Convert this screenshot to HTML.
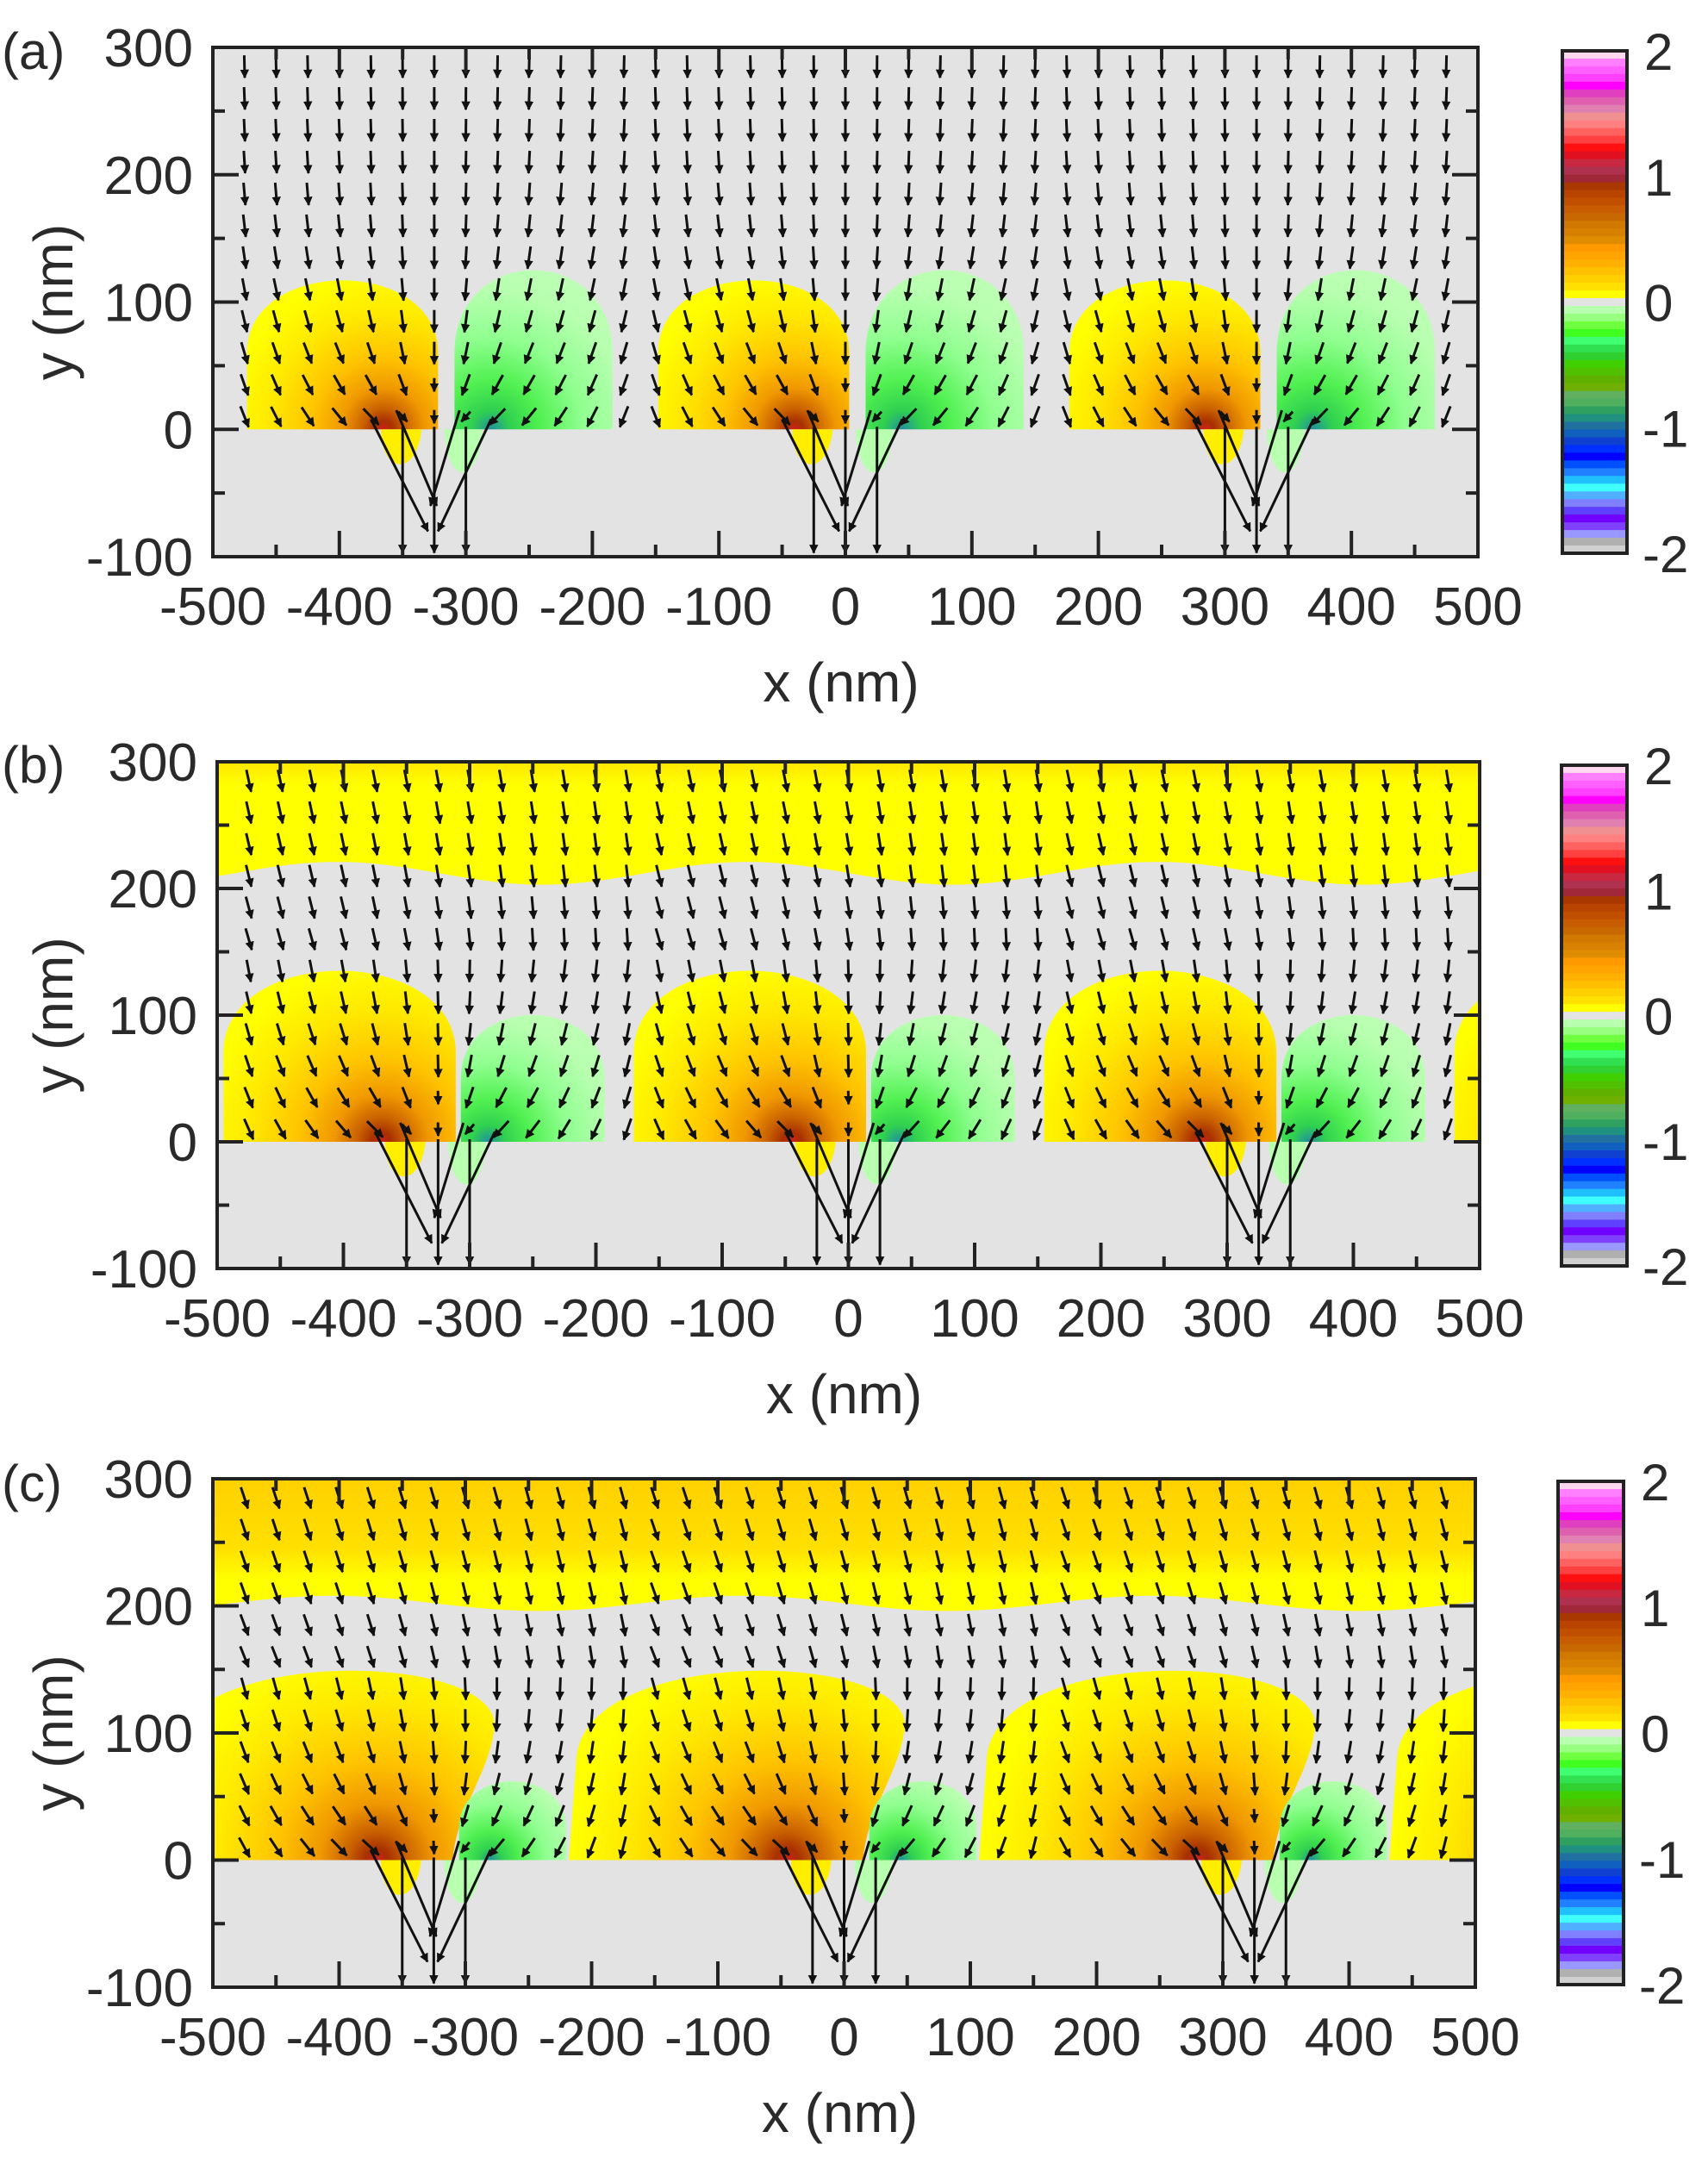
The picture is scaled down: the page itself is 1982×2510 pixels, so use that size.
<!DOCTYPE html>
<html><head><meta charset="utf-8">
<style>
html,body{margin:0;padding:0;background:#fff;}
svg{display:block;}
text{font-family:"Liberation Sans",Arial,sans-serif;fill:#2a2a2a;}
</style></head>
<body>
<svg id="s" xmlns="http://www.w3.org/2000/svg" width="1982" height="2510" viewBox="0 0 1982 2510">
<defs>
<marker id="ah" viewBox="0 0 10 10" refX="9" refY="5" markerWidth="3.5" markerHeight="3.5" orient="auto" markerUnits="strokeWidth">
<path d="M0,0 L10,5 L0,10 z" fill="#111"/>
</marker>
</defs>
<g id="root"></g>
</svg>
<script>
(function(){
var NS="http://www.w3.org/2000/svg";
var root=document.getElementById('root');
var defs=document.querySelector('defs');
function el(tag,attrs,parent,txt){var e=document.createElementNS(NS,tag);for(var k in attrs)e.setAttribute(k,attrs[k]);if(txt!==undefined)e.textContent=txt;(parent||root).appendChild(e);return e;}
var gid=0;
var cbColors=["#ffd8f0","#ff80ff","#ff60ff","#ff40ff","#ff00ff","#e040c0","#e060b0","#e080b0","#f09090","#ff8080","#ff6060","#ff4040","#ff1010","#e01020","#c82840","#b03050","#a02838","#a83800","#b84400","#c05000","#c85c00","#c86800","#d07800","#d88000","#e08c00","#ff9900","#ffa400","#ffb000","#ffc000","#ffd000","#ffe000","#ffff00","#e3e3e3","#b8ffb0","#98ff80","#70ff40","#40ff20","#40ff70","#30e050","#30d030","#40d000","#50c000","#60b000","#70b000","#60b060","#50b060","#30a060","#209080","#2070a0","#1060c0","#1040d0","#0030ff","#0000ff","#0050ff","#2080ff","#20c0ff","#40ffff","#50b0ff","#8080ff","#6040ff","#7000ff","#8040ff","#9898ff","#b0b0b0","#d0d0d0"];

function panel(P){
  var L=P.L,R=P.R,T=P.T,B=P.B,W=R-L,H=B-T;
  function px(x){return L+(x+500)/1000*W;}
  function py(y){return T+(300-y)/400*H;}
  var cid='clip'+(gid++);
  var cp=el('clipPath',{id:cid},defs);
  el('rect',{x:L,y:T,width:W,height:H},cp);
  var g=el('g',{'clip-path':'url(#'+cid+')'});
  el('rect',{x:L,y:T,width:W,height:H,fill:'#e3e3e3'},g);
  if(P.band){
    var lg='lg'+(gid++);
    var gr=el('linearGradient',{id:lg,x1:0,y1:py(300),x2:0,y2:py(P.band.y0),gradientUnits:'userSpaceOnUse'},defs);
    P.band.stops.forEach(function(s){el('stop',{offset:s[0],'stop-color':s[1]},gr);});
    var d='M'+px(-500)+','+py(300)+' L'+px(500)+','+py(300);
    for(var x=500;x>=-500;x-=10){d+=' L'+px(x)+','+py(P.band.f(x));}
    d+=' Z';
    el('path',{d:d,fill:'url(#'+lg+')'},g);
  }
  var centers=[-650,-325,0,325,650];
  centers.forEach(function(c){
    var Y=P.yl, G=P.gl;
    var rg='rg'+(gid++);
    var gr=el('radialGradient',{id:rg,cx:px(c+Y.fc),cy:py(0),r:Y.rad,gradientUnits:'userSpaceOnUse'},defs);
    [[0,'#d02020'],[0.04,'#a83000'],[0.1,'#c86000'],[0.2,'#f09800'],[0.35,'#ffc400'],[0.55,'#ffe800'],[0.75,'#ffff00'],[1,'#ffff00']].forEach(function(s){el('stop',{offset:s[0],'stop-color':s[1]},gr);});
    el('path',{d:Y.path(c,px,py),fill:'url(#'+rg+')'},g);
    el('path',{d:'M'+px(c-42)+','+py(0)+' C'+px(c-42)+','+py(-35)+' '+px(c-14)+','+py(-38)+' '+px(c-10)+','+py(0)+' Z',fill:'#ffee00'},g);
    var rg2='rg'+(gid++);
    var gr2=el('radialGradient',{id:rg2,cx:px(c+G.fc),cy:py(0),r:G.rad,gradientUnits:'userSpaceOnUse'},defs);
    [[0,'#2090a0'],[0.08,'#30d050'],[0.2,'#50f050'],[0.38,'#90ff90'],[0.58,'#b8ffb0'],[1,'#c8ffc0']].forEach(function(s){el('stop',{offset:s[0],'stop-color':s[1]},gr2);});
    el('path',{d:G.path(c,px,py),fill:'url(#'+rg2+')'},g);
    el('path',{d:'M'+px(c+8)+','+py(0)+' C'+px(c+10)+','+py(-45)+' '+px(c+35)+','+py(-45)+' '+px(c+38)+','+py(0)+' Z',fill:'#b8ffb0'},g);
  });
  var ag=el('g',{stroke:'#111','stroke-width':3,fill:'none'},g);
  var Lp=P.alen;
  for(var x=-475;x<=475;x+=25){
    for(var y=285;y>=0;y-=25){
      var yy=y<10?2:y;
      var c=Math.round(x/325)*325;
      var dx=c-x, dy=-yy; var r=Math.sqrt(dx*dx+dy*dy)+1;
      var tilt=P.tilt(x,yy);
      var s=2.2*Math.exp(-r/90);
      var vx=tilt+dx/r*s, vy=-1+dy/r*s;
      if(y<10){vx=dx/r*3; vy=-0.05;}
      var n=Math.sqrt(vx*vx+vy*vy); vx/=n; vy/=n;
      var len=Lp; if(y<10) len=Lp*0.9;
      if(r<40) len=Lp*0.6;
      var cxp=px(x), cyp=py(yy);
      var x1=cxp-vx*len/2, y1=cyp+vy*len/2, x2=cxp+vx*len/2, y2=cyp-vy*len/2;
      el('line',{x1:x1.toFixed(1),y1:y1.toFixed(1),x2:x2.toFixed(1),y2:y2.toFixed(1),'marker-end':'url(#ah)'},ag);
    }
  }
  [-325,0,325].forEach(function(c){
    var segs=[[c-25,2,c-25,-97],[c,2,c,-97],[c+25,2,c+25,-97],[c-50,8,c-5,-80],[c+45,8,c+3,-80],[c-30,15,c+2,-60],[c+20,15,c-3,-60]];
    segs.forEach(function(s){el('line',{x1:px(s[0]),y1:py(s[1]),x2:px(s[2]),y2:py(s[3]),'marker-end':'url(#ah)'},ag);});
  });
  var fg=el('g',{stroke:'#222','stroke-width':4,fill:'none'});
  el('rect',{x:L,y:T,width:W,height:H},fg);
  for(var x=-500;x<=500;x+=50){
    var tl=(x%100===0)?30:14;
    el('line',{x1:px(x),y1:B,x2:px(x),y2:B-tl},fg);
    el('line',{x1:px(x),y1:T,x2:px(x),y2:T+tl},fg);
  }
  for(var y=-100;y<=300;y+=50){
    var tl=(y%100===0)?30:14;
    el('line',{x1:L,y1:py(y),x2:L+tl,y2:py(y)},fg);
    el('line',{x1:R,y1:py(y),x2:R-tl,y2:py(y)},fg);
  }
  for(var x=-500;x<=500;x+=100){
    el('text',{x:px(x),y:B+79,'font-size':62,'text-anchor':'middle'},root,String(x));
  }
  for(var y=-100;y<=300;y+=100){
    el('text',{x:L-23,y:py(y)+22,'font-size':62,'text-anchor':'end'},root,String(y));
  }
  el('text',{x:(L+R)/2-5,y:B+168,'font-size':64,'text-anchor':'middle'},root,'x (nm)');
  el('text',{x:0,y:0,'font-size':64,'text-anchor':'middle',transform:'translate(84,'+((T+B)/2)+') rotate(-90)'},root,'y (nm)');
  el('text',{x:2,y:P.labY,'font-size':60},root,P.lab);
  var C=P.cb, n=cbColors.length, h=(C.B-C.T)/n;
  cbColors.forEach(function(col,i){el('rect',{x:C.L,y:C.T+i*h,width:C.R-C.L,height:h+0.6,fill:col});});
  el('rect',{x:C.L,y:C.T,width:C.R-C.L,height:C.B-C.T,fill:'none',stroke:'#222','stroke-width':4});
  ['2','1','0','-1','-2'].forEach(function(t,i){
    el('text',{x:C.R+(t.length>1?18:20),y:C.T+i*(C.B-C.T)/4+22,'font-size':60},root,t);
  });
}

function lobe(x1,x2,top,ym){
  return function(c,px,py){
    var a=c+x1,b=c+x2, ctrl=ym+(top-ym)*4/3;
    return 'M'+px(a)+','+py(0)+' L'+px(a)+','+py(ym)+' C'+px(a)+','+py(ctrl)+' '+px(b)+','+py(ctrl)+' '+px(b)+','+py(ym)+' L'+px(b)+','+py(0)+' Z';
  };
}

panel({L:247,R:1715,T:55,B:646,lab:'(a)',labY:80,alen:26,
  tilt:function(){return 0;},
  yl:{path:lobe(-148,3,117,60),fc:-40,rad:240},
  gl:{path:lobe(16,141,125,60),fc:45,rad:280},
  cb:{L:1813,R:1888,T:59,B:642}});
panel({L:252,R:1717,T:884,B:1472,lab:'(b)',labY:908,alen:26,
  tilt:function(x,y){return y>150?0.2:0.05;},
  band:{y0:210,f:function(x){return 212+9*Math.cos(2*Math.PI*(x+80)/325);},stops:[[0,'#ffe600'],[0.2,'#ffff00'],[1,'#ffff00']]},
  yl:{path:lobe(-170,14,135,70),fc:-45,rad:275},
  gl:{path:lobe(18,132,100,50),fc:40,rad:240},
  cb:{L:1812,R:1888,T:888,B:1469}});
panel({L:247,R:1712,T:1716,B:2306,lab:'(c)',labY:1742,alen:26,
  tilt:function(x,y){return y>150?0.32:0.15;},
  band:{y0:200,f:function(x){return 202+6*Math.cos(2*Math.PI*(x+80)/325);},stops:[[0,'#ffd000'],[0.55,'#ffe000'],[0.8,'#ffff00'],[1,'#ffff00']]},
  yl:{path:function(c,px,py){return 'M'+px(c-218)+','+py(0)+' L'+px(c-212)+','+py(80)+' C'+px(c-205)+','+py(170)+' '+px(c+52)+','+py(165)+' '+px(c+48)+','+py(105)+' C'+px(c+45)+','+py(70)+' '+px(c+18)+','+py(40)+' '+px(c+15)+','+py(0)+' Z';},fc:-45,rad:330},
  gl:{path:lobe(20,105,62,25),fc:45,rad:170},
  cb:{L:1808,R:1884,T:1719,B:2303}});
})();
</script>
</body></html>
